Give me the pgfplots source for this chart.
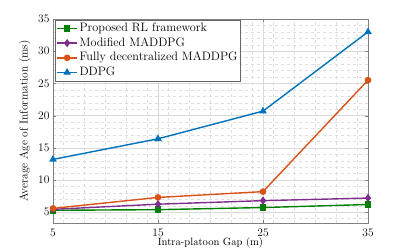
\documentclass[border=0pt]{standalone}
\usepackage{fontspec}
\usepackage{pgfplots}
\pgfplotsset{compat=1.18}
\definecolor{mgreen}{rgb}{0,0.5,0}
\definecolor{mpurple}{rgb}{0.494,0.184,0.556}
\definecolor{morange}{rgb}{0.85,0.325,0.098}
\definecolor{mblue}{rgb}{0,0.447,0.741}
\begin{document}
\begin{tikzpicture}
\useasboundingbox (0,0) rectangle (407pt,251pt);
\begin{axis}[
  at={(53pt,28pt)}, anchor=south west,
  scale only axis, width=315pt, height=204pt,
  xmin=5, xmax=35, ymin=3.33, ymax=35,
  xtick={5,15,25,35}, ytick={5,10,...,35},
  minor xtick={6,8,...,34}, minor ytick={4,...,34},
  grid=both,
  major grid style={draw=black!15, line width=0.5pt},
  minor grid style={draw=black!13, dashed, line width=0.4pt},
  axis line style={draw=black!50},
  tick style={draw=black!50},
  tick align=inside,
  major tick length=3pt, minor tick length=0pt,
  /pgf/number format/assume math mode=true,
  xlabel={Intra-platoon Gap (m)},
  ylabel={Average Age of Information (ms)},
  xlabel style={font=\fontsize{10.6}{12}\selectfont, at={(axis description cs:0.5,0)}, anchor=base, yshift=-23pt},
  ylabel style={font=\fontsize{11.4}{13}\selectfont, at={(axis description cs:0,0.5)}, anchor=south, yshift=19pt},
  tick label style={font=\fontsize{11.5}{13}\selectfont},
  xticklabel style={anchor=base, yshift=-14pt},
  legend style={at={(axis cs:5.19,34.85)}, anchor=north west, draw=black!60, fill=white,
    font=\fontsize{12.2}{13}\selectfont, row sep=0.2pt, inner sep=1pt,
    nodes={inner sep=1.5pt, text height=8.8pt, text depth=2.7pt}},
  legend cell align=left,
  legend image code/.code={\draw[mark repeat=2,mark phase=2] plot coordinates {(0cm,0cm) (0.36cm,0cm) (0.72cm,0cm)};},
  every axis plot/.append style={line width=1.4pt},
]
\addplot[mgreen, mark=square*, mark size=2.6pt] coordinates {(5,5.3) (15,5.4) (25,5.73) (35,6.2)};
\addlegendentry{Proposed RL framework}
\addplot[mpurple, mark=diamond*, mark size=3pt] coordinates {(5,5.45) (15,6.25) (25,6.8) (35,7.2)};
\addlegendentry{Modified MADDPG}
\addplot[morange, mark=*, mark size=2.6pt] coordinates {(5,5.6) (15,7.3) (25,8.2) (35,25.5)};
\addlegendentry{Fully decentralized MADDPG}
\addplot[mblue, mark=triangle*, mark size=3pt] coordinates {(5,13.2) (15,16.4) (25,20.7) (35,33.0)};
\addlegendentry{DDPG}
\end{axis}
\end{tikzpicture}
\end{document}
